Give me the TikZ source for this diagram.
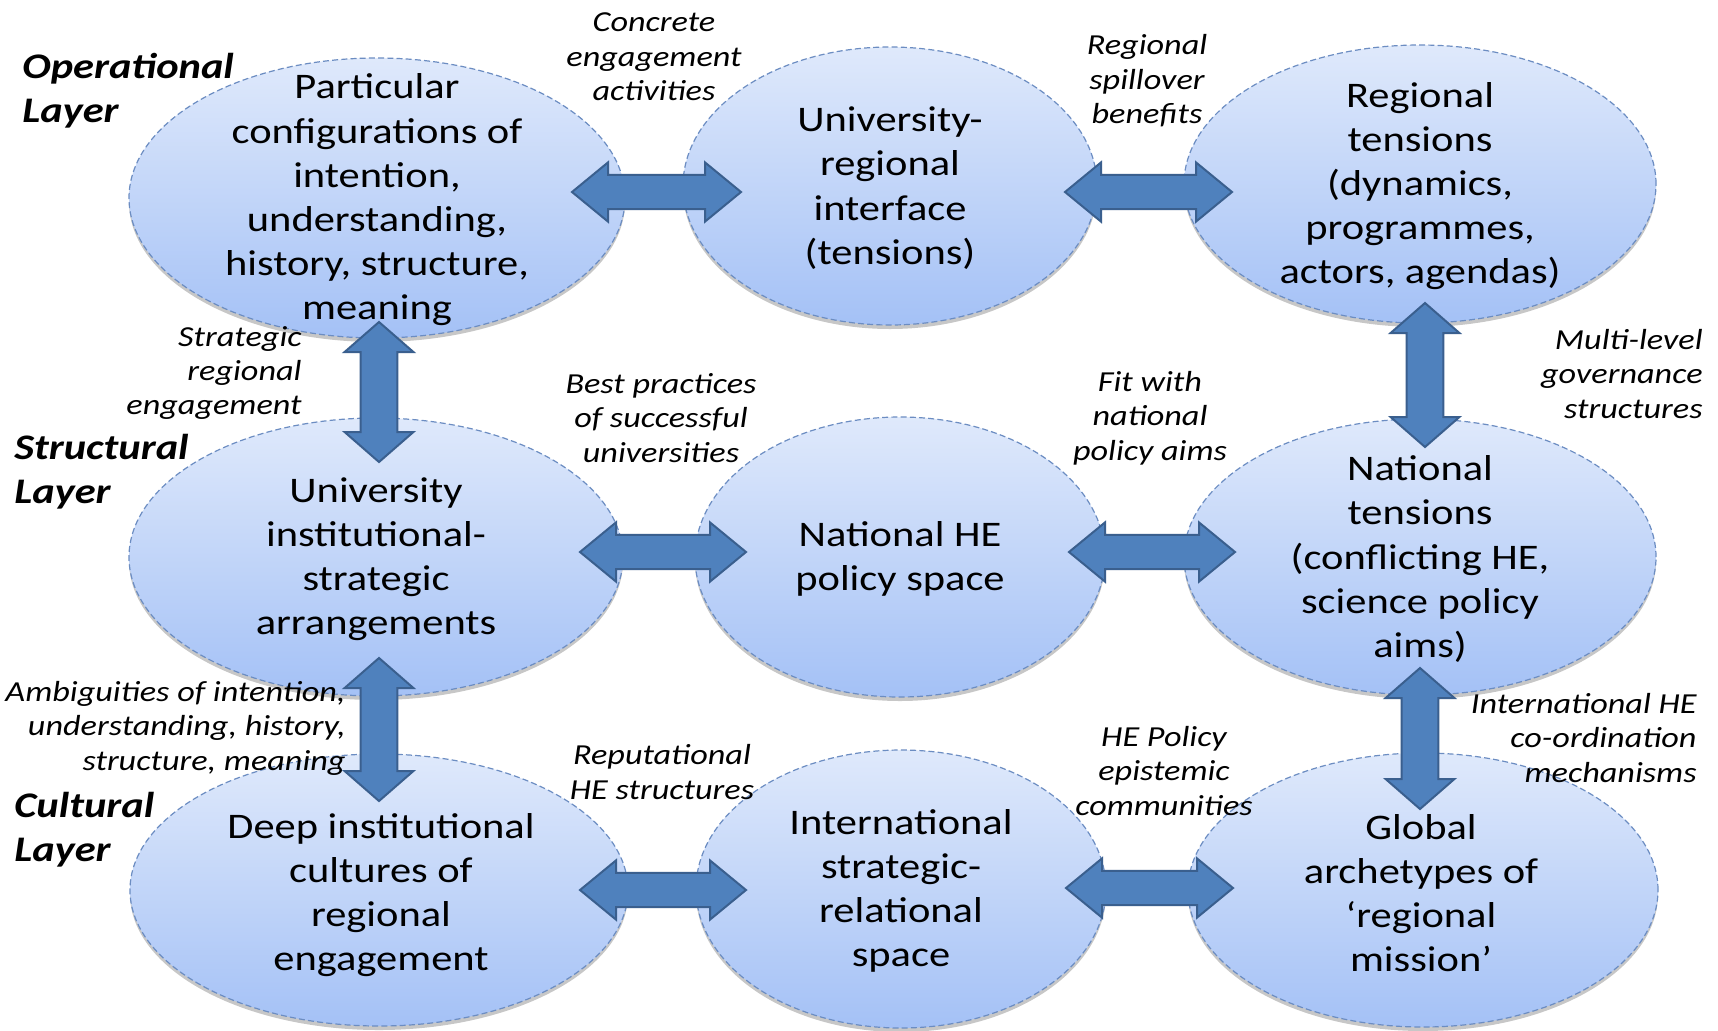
\documentclass[tikz,border=0pt]{standalone}
\usepackage{fontspec}
\setmainfont{Carlito}[FakeStretch=1.18]
\usetikzlibrary{calc,shapes.geometric,shadows}
\definecolor{arrfill}{HTML}{4F81BD}
\definecolor{arrline}{HTML}{3A5F8E}
\definecolor{bubtop}{HTML}{DFE9FB}
\definecolor{bubbot}{HTML}{A4C1F6}
\definecolor{bubline}{HTML}{6C8DC2}
\newcommand\blockarr[5]{%
  \draw[barrow] (#1) -- ($(#1)!#5!(#2)!#4!90:(#2)$) -- ($(#1)!#5!(#2)!#3!90:(#2)$)
   -- ($(#2)!#5!(#1)!#3!-90:(#1)$) -- ($(#2)!#5!(#1)!#4!-90:(#1)$) -- (#2)
   -- ($(#2)!#5!(#1)!#4!90:(#1)$) -- ($(#2)!#5!(#1)!#3!90:(#1)$)
   -- ($(#1)!#5!(#2)!#3!-90:(#2)$) -- ($(#1)!#5!(#2)!#4!-90:(#2)$) -- cycle;}
\tikzset{
  bub/.style={ellipse, inner sep=0pt, draw=bubline, line width=0.6pt,
    dash pattern=on 3pt off 1.6pt, top color=bubtop, bottom color=bubbot,
    drop shadow={shadow xshift=0pt, shadow yshift=-2pt, opacity=0.22, fill=black}},
  maintext/.style={align=center, inner sep=0pt, text=black,
    font=\fontsize{18}{22.1}\selectfont},
  lab/.style={align=center, inner sep=0pt, text=black,
    font=\itshape\fontsize{14.5}{17.2}\selectfont},
  layer/.style={align=left, anchor=west, inner sep=0pt, text=black,
    font=\bfseries\itshape\fontsize{18}{22}\selectfont},
  barrow/.style={fill=arrfill, draw=arrline, line width=1pt, line join=miter}
}
\begin{document}
\begin{tikzpicture}[x=0.5pt, y=-0.5pt]
\fill[white] (0,0) rectangle (1718,1030);
\useasboundingbox (0,0) rectangle (1718,1030);

% ellipses
\node[bub, minimum width=248pt, minimum height=140pt] (E1) at (377,198) {};
\node[bub, minimum width=207pt, minimum height=139pt] (E2) at (890,186) {};
\node[bub, minimum width=236pt, minimum height=139pt] (E3) at (1420,184) {};
\node[bub, minimum width=247pt, minimum height=139pt] (E4) at (376,557) {};
\node[bub, minimum width=205pt, minimum height=140pt] (E5) at (900,557) {};
\node[bub, minimum width=236pt, minimum height=138pt] (E6) at (1420,557) {};
\node[bub, minimum width=249pt, minimum height=136pt] (E7) at (379,890) {};
\node[bub, minimum width=205pt, minimum height=139pt] (E8) at (901,889) {};
\node[bub, minimum width=235pt, minimum height=137pt] (E9) at (1423,890) {};

% texts in ellipses
\node[maintext] (T1) at ($(E1.center)+(0,2)$) {Particular\\configurations of\\intention,\\understanding,\\history, structure,\\meaning};
\node[maintext] (T2) at ($(E2.center)+(0,2)$) {University-\\regional\\interface\\(tensions)};
\node[maintext] (T3) at ($(E3.center)+(0,2)$) {Regional\\tensions\\(dynamics,\\programmes,\\actors, agendas)};
\node[maintext] (T4) at ($(E4.center)+(0,2)$) {University\\institutional-\\strategic\\arrangements};
\node[maintext] (T5) at ($(E5.center)+(0,2)$) {National HE\\policy space};
\node[maintext] (T6) at ($(E6.center)+(0,2)$) {National\\tensions\\(conflicting HE,\\science policy\\aims)};
\node[maintext] (T7) at ($(E7.center)+(2,5)$) {Deep institutional\\cultures of\\regional\\engagement};
\node[maintext] (T8) at ($(E8.center)+(0,2)$) {International\\strategic-\\relational\\space};
\node[maintext] (T9) at ($(E9.center)+(-2,3)$) {Global\\archetypes of\\‘regional\\mission’};

% arrow end points
\coordinate (h1a) at (572,192);  \coordinate (h1b) at (741,192);
\coordinate (h2a) at (1065,192); \coordinate (h2b) at (1232,192);
\coordinate (h3a) at (580,552);  \coordinate (h3b) at (746,552);
\coordinate (h4a) at (1069,552); \coordinate (h4b) at (1235,552);
\coordinate (h5a) at (580,890);  \coordinate (h5b) at (746,890);
\coordinate (h6a) at (1066,888); \coordinate (h6b) at (1233,888);
\coordinate (v1a) at (379,322);  \coordinate (v1b) at (379,462);
\coordinate (v2a) at (379,658);  \coordinate (v2b) at (379,801);
\coordinate (v3a) at (1425,303); \coordinate (v3b) at (1425,447);
\coordinate (v4a) at (1420,668); \coordinate (v4b) at (1420,809);

\blockarr{h1a}{h1b}{8.6pt}{14.8pt}{18pt}
\blockarr{h2a}{h2b}{8.6pt}{14.8pt}{18pt}
\blockarr{h3a}{h3b}{8.6pt}{14.8pt}{18pt}
\blockarr{h4a}{h4b}{8.6pt}{14.8pt}{18pt}
\blockarr{h5a}{h5b}{8.6pt}{14.8pt}{18pt}
\blockarr{h6a}{h6b}{8.6pt}{14.8pt}{18pt}
\blockarr{v1a}{v1b}{9.2pt}{17.2pt}{15pt}
\blockarr{v2a}{v2b}{9.2pt}{17.2pt}{15pt}
\blockarr{v3a}{v3b}{9.2pt}{17.2pt}{15pt}
\blockarr{v4a}{v4b}{9.2pt}{17.2pt}{15pt}

% connector labels
\node[lab] (L1) at (654,57) {Concrete\\engagement\\activities};
\node[lab] (L2) at (1147,81) {Regional\\spillover\\benefits};
\node[lab, align=right, anchor=east] (L3) at (302,373) {Strategic\\regional\\engagement};
\node[lab] (L4) at (661,418) {Best practices\\of successful\\universities};
\node[lab] (L5) at (1150,418) {Fit with\\national\\policy aims};
\node[lab, align=right, anchor=east] (L6) at (1703,374) {Multi-level\\governance\\structures};
\node[lab, align=right, anchor=east] (L7) at (346,728) {Ambiguities of intention,\\understanding, history,\\structure, meaning};
\node[lab] (L8) at (662,772) {Reputational\\HE structures};
\node[lab] (L9) at (1164,771) {HE Policy\\epistemic\\communities};
\node[lab, align=right, anchor=east] (L10) at (1697,738) {International HE\\co-ordination\\mechanisms};

% layer labels
\node[layer] (LY1) at (22,91) {Operational\\Layer};
\node[layer] (LY2) at (14,472) {Structural\\Layer};
\node[layer] (LY3) at (14,830) {Cultural\\Layer};
\end{tikzpicture}
\end{document}
